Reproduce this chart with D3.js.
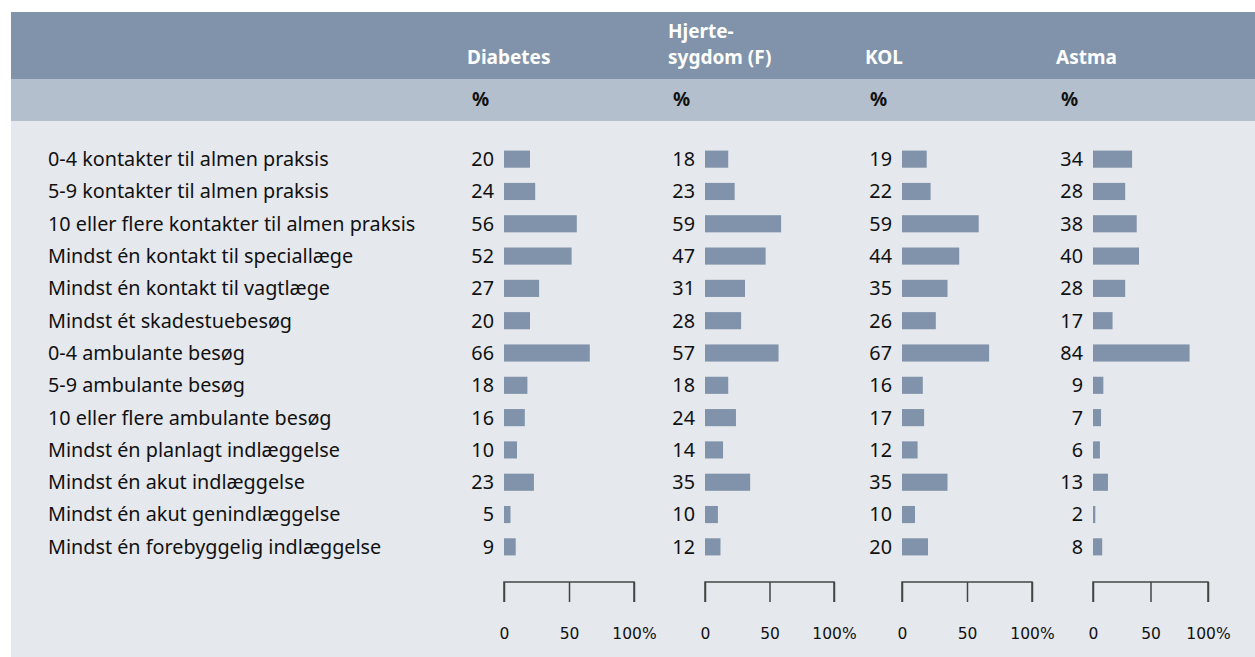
<!DOCTYPE html>
<html><head><meta charset="utf-8">
<script src="https://cdn.jsdelivr.net/npm/d3@7"></script>
<style>body{margin:0;background:#fff;} svg{display:block;}</style>
</head><body>
<svg id="c" width="1255" height="657"></svg>
<script>
const categories = [
  "0-4 kontakter til almen praksis",
  "5-9 kontakter til almen praksis",
  "10 eller flere kontakter til almen praksis",
  "Mindst én kontakt til speciallæge",
  "Mindst én kontakt til vagtlæge",
  "Mindst ét skadestuebesøg",
  "0-4 ambulante besøg",
  "5-9 ambulante besøg",
  "10 eller flere ambulante besøg",
  "Mindst én planlagt indlæggelse",
  "Mindst én akut indlæggelse",
  "Mindst én akut genindlæggelse",
  "Mindst én forebyggelig indlæggelse"
];
const seriesNames = [["Diabetes"], ["Hjerte-", "sygdom (F)"], ["KOL"], ["Astma"]];
const diabetes = [20,24,56,52,27,20,66,18,16,10,23,5,9];
const hjertesygdom = [18,23,59,47,31,28,57,18,24,14,35,10,12];
const kol = [19,22,59,44,35,26,67,16,17,12,35,10,20];
const astma = [34,28,38,40,28,17,84,9,7,6,13,2,8];
const tickValues = [0, 50, 100];
const tickLabels = ["0", "50", "100%"];
const unitLabel = "%";

const series = [diabetes, hjertesygdom, kol, astma];
// layout
const panelX = [504, 705, 902, 1093];
const panelW = [130, 129, 130, 115];
const svg = d3.select("#c");
const font = "'Noto Sans', sans-serif";

svg.append("rect").attr("x",11).attr("y",12).attr("width",1244).attr("height",67).attr("fill","#8093aa");
svg.append("rect").attr("x",11).attr("y",79).attr("width",1244).attr("height",42).attr("fill","#b3bfcd");
svg.append("rect").attr("x",11).attr("y",121).attr("width",1244).attr("height",536).attr("fill","#e5e8ed");

const y = d3.scaleBand().domain(categories).range([143, 563]).paddingInner(0.47).paddingOuter(0.235);

svg.append("g").selectAll("text").data(categories).join("text")
  .attr("x", 48).attr("y", d => y(d) + y.bandwidth()/2)
  .attr("dy","0.35em")
  .attr("font-family", font).attr("font-size", 19.8).attr("fill","#111")
  .text(d => d);

series.forEach((vals, i) => {
  const x = d3.scaleLinear().domain([0,100]).range([panelX[i], panelX[i] + panelW[i]]);
  const g = svg.append("g");
  // header
  const names = seriesNames[i];
  names.forEach((n, k) => {
    g.append("text").attr("x", panelX[i] - 37).attr("y", 64 - (names.length-1-k)*26)
      .attr("font-family", font).attr("font-size", 19).attr("font-weight","bold").attr("fill","#fff").text(n);
  });
  g.append("text").attr("x", panelX[i] - 32).attr("y", 106)
    .attr("font-family", font).attr("font-size", 19).attr("font-weight","bold").attr("fill","#111").text(unitLabel);
  // bars
  g.selectAll("rect.bar").data(vals).join("rect").attr("class","bar")
    .attr("x", x(0)).attr("y", (d,j) => y(categories[j]))
    .attr("width", d => x(d) - x(0)).attr("height", y.bandwidth())
    .attr("fill", "#8093aa");
  g.selectAll("text.val").data(vals).join("text").attr("class","val")
    .attr("x", x(0) - 10).attr("y", (d,j) => y(categories[j]) + y.bandwidth()/2)
    .attr("dy","0.35em").attr("text-anchor","end")
    .attr("font-family", font).attr("font-size", 19.8).attr("fill","#111").text(d => d);
  // axis
  const axis = d3.axisBottom(x).tickValues(tickValues).tickSize(20).tickPadding(26)
    .tickFormat((d, k) => tickLabels[k]);
  const ag = g.append("g").attr("transform","translate(0,582)").call(axis);
  ag.select(".domain").attr("d", `M${x(0)},20V0H${x(100)}V20`).attr("stroke","#444").attr("stroke-width",1.5);
  ag.selectAll(".tick line").attr("stroke","#444").attr("stroke-width",1.5);
  ag.selectAll(".tick text").attr("font-family","'DejaVu Sans', sans-serif").attr("font-size",15.5).attr("fill","#111");
});
</script>
</body></html>
